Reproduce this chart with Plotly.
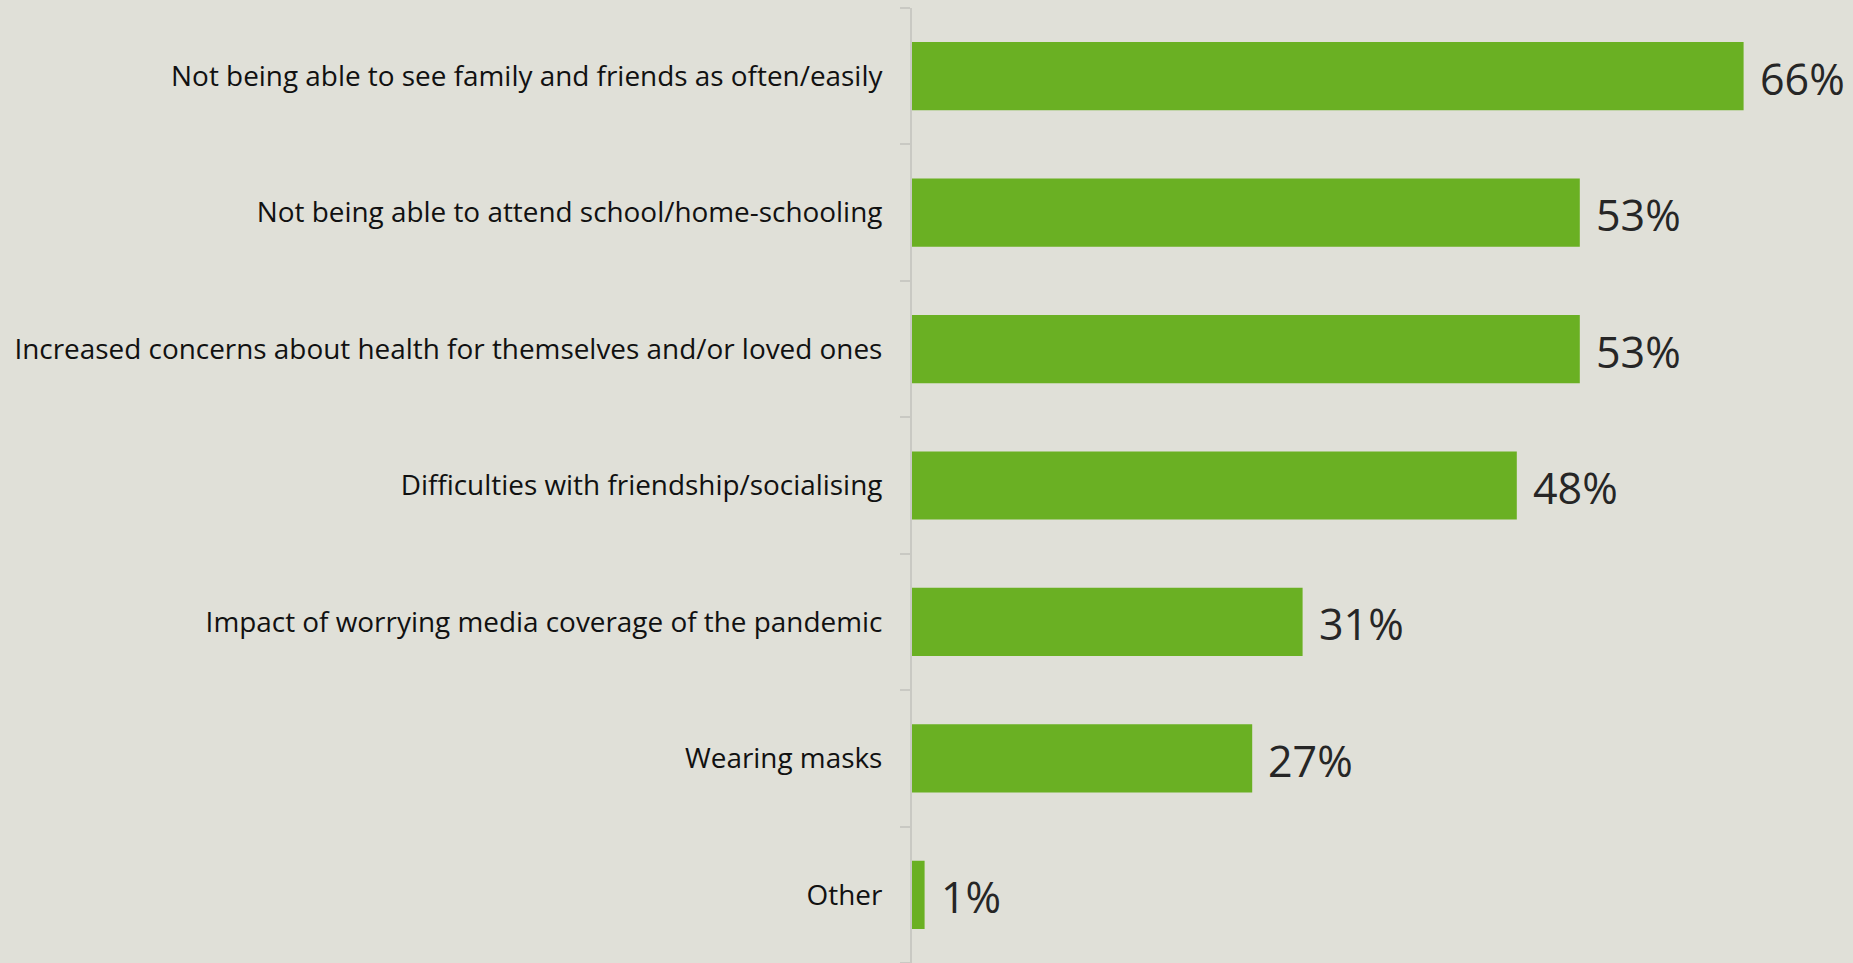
import plotly.graph_objects as go

# Survey categories, top to bottom
categories = [
    "Not being able to see family and friends as often/easily",
    "Not being able to attend school/home-schooling",
    "Increased concerns about health for themselves and/or loved ones",
    "Difficulties with friendship/socialising",
    "Impact of worrying media coverage of the pandemic",
    "Wearing masks",
    "Other",
]
values = [66, 53, 53, 48, 31, 27, 1]
value_labels = ["66%", "53%", "53%", "48%", "31%", "27%", "1%"]

BG = "#e0e0d8"
BAR = "#6ab023"
AXIS = "#c9c9c3"

fig = go.Figure()
fig.add_trace(go.Bar(
    x=values,
    y=categories,
    orientation="h",
    marker=dict(color=BAR, line=dict(width=0)),
    width=0.5,
    hoverinfo="skip",
))

# value labels placed just right of each bar end
for cat, v, lab in zip(categories, values, value_labels):
    fig.add_annotation(
        x=v, y=cat, text=lab, showarrow=False,
        xanchor="left", yanchor="middle", xshift=14, yshift=-2,
        font=dict(family="Open Sans", size=43, color="#262626"),
    )

fig.update_layout(
    width=1853, height=963,
    paper_bgcolor=BG, plot_bgcolor=BG,
    margin=dict(l=912, r=0, t=8, b=0),
    showlegend=False,
    bargap=0.5,
)
fig.update_xaxes(
    range=[0, 941 / 12.6],
    showgrid=False, zeroline=False, showticklabels=False, showline=False,
    fixedrange=True,
)
fig.update_yaxes(
    categoryorder="array", categoryarray=categories[::-1],
    showgrid=False, zeroline=False,
    showline=True, linecolor=AXIS, linewidth=2,
    ticks="outside", tickson="boundaries", ticklen=10, tickcolor=AXIS, tickwidth=2,
    ticklabelstandoff=22,
    tickfont=dict(family="Open Sans", size=27.9, color="#111111"),
    fixedrange=True,
)

fig.write_html("out.html")
